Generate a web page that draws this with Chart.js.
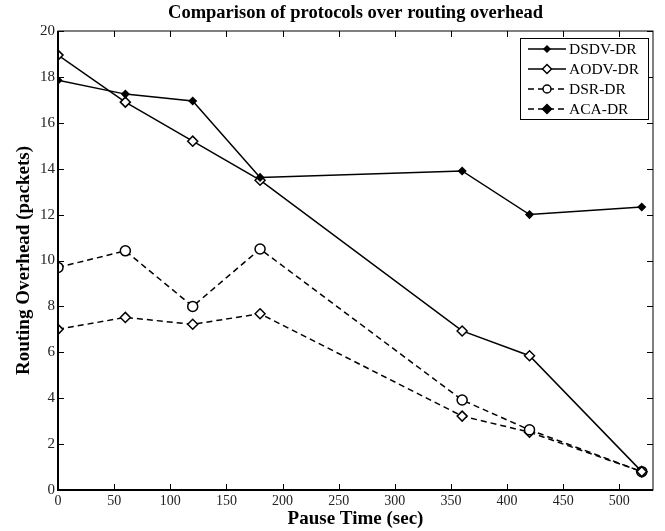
<!DOCTYPE html>
<html>
<head>
<meta charset="utf-8">
<script src="https://cdn.jsdelivr.net/npm/chart.js@4.4.0/dist/chart.umd.min.js"></script>
<style>
  html, body { margin: 0; padding: 0; background: #fff; }
  #wrap { width: 665px; height: 531px; }
</style>
</head>
<body>
<div id="wrap"><canvas id="chart"></canvas></div>
<script>
const pauseTimes = [0, 60, 120, 180, 360, 420, 520];
const dsdvDR = [17.85, 17.25, 16.95, 13.62, 13.9, 12.0, 12.33];
const aodvDR = [18.95, 16.9, 15.2, 13.5, 6.93, 5.85, 0.8];
const dsrDR = [9.7, 10.42, 8.0, 10.5, 3.92, 2.62, 0.8];
const acaDR = [7.0, 7.52, 7.22, 7.68, 3.22, 2.52, 0.8];
const xTicks = [0, 50, 100, 150, 200, 250, 300, 350, 400, 450, 500];
const yTicks = [0, 2, 4, 6, 8, 10, 12, 14, 16, 18, 20];
const chartTitle = "Comparison of protocols over routing overhead";

const serif = "'Liberation Serif', 'DejaVu Serif', serif";

function toPoints(vals) {
  return vals.map((v, i) => ({ x: pauseTimes[i], y: v }));
}

const series = [
  { label: "DSDV-DR", data: dsdvDR, dash: [], style: "rectRot", radius: 3.5, fill: "#000" },
  { label: "AODV-DR", data: aodvDR, dash: [], style: "rectRot", radius: 5, fill: "#fff" },
  { label: "DSR-DR", data: dsrDR, dash: [6, 4], style: "circle", radius: 5, fill: "#fff" },
  { label: "ACA-DR", data: acaDR, dash: [6, 4], style: "rectRot", radius: 5, fill: "#fff", legendFill: "#000" }
];

// inward ticks on all sides + box, MATLAB style; title centred over the axes
const boxTicks = {
  id: "boxTicks",
  afterDraw(chart) {
    const { ctx, chartArea: a, scales } = chart;
    ctx.save();
    ctx.fillStyle = "#000";
    ctx.font = "bold 18.5px " + serif;
    ctx.textAlign = "center";
    ctx.textBaseline = "middle";
    ctx.fillText(chartTitle, (a.left + a.right) / 2, 13);
    ctx.textAlign = "left";

    ctx.strokeStyle = "#000";
    ctx.lineWidth = 1;
    ctx.strokeRect(a.left, a.top, a.right - a.left, a.bottom - a.top);
    ctx.beginPath();
    xTicks.forEach(t => {
      const px = Math.round(scales.x.getPixelForValue(t)) + 0.5;
      ctx.moveTo(px, a.bottom); ctx.lineTo(px, a.bottom - 6);
      ctx.moveTo(px, a.top); ctx.lineTo(px, a.top + 6);
    });
    yTicks.forEach(t => {
      const py = Math.round(scales.y.getPixelForValue(t)) + 0.5;
      ctx.moveTo(a.left, py); ctx.lineTo(a.left + 6, py);
      ctx.moveTo(a.right, py); ctx.lineTo(a.right - 6, py);
    });
    ctx.stroke();
    // bolder left/bottom axis lines
    ctx.lineWidth = 2;
    ctx.beginPath();
    ctx.moveTo(a.left, a.top); ctx.lineTo(a.left, a.bottom); ctx.lineTo(a.right, a.bottom);
    ctx.stroke();

    // legend box in upper right
    const bx = 520, by = 38, bw = 128, bh = 81;
    ctx.fillStyle = "#fff";
    ctx.fillRect(bx, by, bw, bh);
    ctx.lineWidth = 1;
    ctx.strokeRect(bx + 0.5, by + 0.5, bw, bh);
    ctx.font = "15.5px " + serif;
    ctx.textBaseline = "middle";
    series.forEach((s, i) => {
      const y = by + 11 + i * 20;
      ctx.strokeStyle = "#000";
      ctx.lineWidth = 1.5;
      ctx.setLineDash(s.dash);
      ctx.beginPath();
      ctx.moveTo(528, y); ctx.lineTo(566, y);
      ctx.stroke();
      ctx.setLineDash([]);
      ctx.fillStyle = s.legendFill || s.fill;
      Chart.helpers.drawPoint(ctx, { pointStyle: s.style, radius: s.style === "circle" ? 4 : s.radius - 0.5, rotation: 0, borderWidth: 1.5 }, 547, y);
      ctx.fillStyle = "#000";
      ctx.fillText(s.label, 569, y + 1);
    });
    ctx.restore();
  }
};

new Chart(document.getElementById("chart"), {
  type: "line",
  data: {
    datasets: series.map(s => ({
      label: s.label,
      data: toPoints(s.data),
      borderColor: "#000",
      borderWidth: 1.5,
      borderDash: s.dash,
      pointStyle: s.style,
      pointRadius: s.radius,
      pointBackgroundColor: s.fill,
      pointBorderColor: "#000",
      pointBorderWidth: 1.5,
      tension: 0,
      fill: false
    }))
  },
  options: {
    responsive: true,
    maintainAspectRatio: false,
    animation: false,
    layout: { padding: { top: 31, right: 12, left: 0, bottom: 0 } },
    plugins: {
      legend: { display: false },
      tooltip: { enabled: false },
      title: { display: false }
    },
    scales: {
      x: {
        type: "linear",
        min: 0,
        max: 530,
        afterBuildTicks: s => { s.ticks = xTicks.map(v => ({ value: v })); },
        afterFit: s => { s.height = 41; },
        grid: { display: false, drawTicks: false },
        border: { display: false },
        ticks: { color: "#222", font: { family: serif, size: 14 }, padding: 3, maxRotation: 0 },
        title: {
          display: true,
          text: "Pause Time (sec)",
          color: "#000",
          font: { family: serif, size: 19, weight: "bold" },
          padding: { top: 0, bottom: 1 }
        }
      },
      y: {
        min: 0,
        max: 20,
        afterBuildTicks: s => { s.ticks = yTicks.map(v => ({ value: v })); },
        afterFit: s => { s.width = 58; },
        grid: { display: false, drawTicks: false },
        border: { display: false },
        ticks: { color: "#222", font: { family: serif, size: 15 }, padding: 3 },
        title: {
          display: true,
          text: "Routing Overhead (packets)",
          color: "#000",
          font: { family: serif, size: 19, weight: "bold" },
          padding: { top: 13, bottom: 4 }
        }
      }
    }
  },
  plugins: [boxTicks]
});
</script>
</body>
</html>
